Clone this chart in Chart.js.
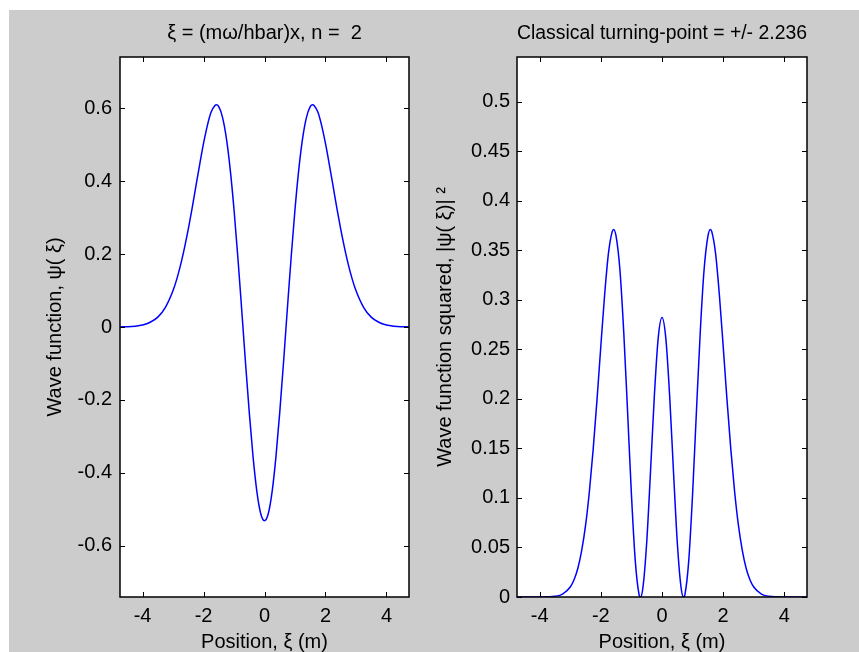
<!DOCTYPE html>
<html>
<head>
<meta charset="utf-8">
<script src="https://cdn.jsdelivr.net/npm/chart.js@4.4.0/dist/chart.umd.min.js"></script>
<style>
  html, body { margin: 0; padding: 0; background: #fff; }
  #fig { position: absolute; left: 9px; top: 10px; width: 850px; height: 642px; background: #cccccc; }
  canvas { position: absolute; top: 0; }
  #psi-chart { left: 0; }
  #prob-chart { left: 430px; }
</style>
</head>
<body>
<div id="fig"></div>
<canvas id="psi-chart" width="430" height="652"></canvas>
<canvas id="prob-chart" width="429" height="652"></canvas>
<script>
// values
const positions = [-4.75, -4.5, -4.25, -4, -3.75, -3.5, -3.25, -3, -2.875, -2.75, -2.625, -2.5, -2.375, -2.25, -2.125, -2,
  -1.875, -1.75, -1.625, -1.58, -1.5, -1.375, -1.25, -1.125, -1, -0.875, -0.75, -0.707, -0.625, -0.5, -0.375, -0.25, -0.125,
  0, 0.125, 0.25, 0.375, 0.5, 0.625, 0.707, 0.75, 0.875, 1, 1.125, 1.25, 1.375, 1.5, 1.58, 1.625, 1.75, 1.875,
  2, 2.125, 2.25, 2.375, 2.5, 2.625, 2.75, 2.875, 3, 3.25, 3.5, 3.75, 4, 4.25, 4.5, 4.75];

const psi = [0.0003, 0.0008, 0.0022, 0.0055, 0.013, 0.027, 0.054, 0.100, 0.132, 0.171, 0.217, 0.268, 0.325, 0.386, 0.446, 0.503,
  0.552, 0.589, 0.607, 0.609, 0.604, 0.574, 0.517, 0.432, 0.322, 0.192, 0.050, 0, -0.096, -0.234, -0.356, -0.451, -0.511,
  -0.531, -0.511, -0.451, -0.356, -0.234, -0.096, 0, 0.050, 0.192, 0.322, 0.432, 0.517, 0.574, 0.604, 0.609, 0.607, 0.589, 0.552,
  0.503, 0.446, 0.386, 0.325, 0.268, 0.217, 0.171, 0.132, 0.100, 0.054, 0.027, 0.013, 0.0055, 0.0022, 0.0008, 0.0003];

const psiSquared = [0, 0, 0, 0, 0.0002, 0.0007, 0.003, 0.0101, 0.0175, 0.029, 0.047, 0.072, 0.106, 0.149, 0.199, 0.253,
  0.305, 0.347, 0.369, 0.371, 0.364, 0.330, 0.267, 0.187, 0.104, 0.037, 0.0025, 0, 0.0091, 0.055, 0.127, 0.203, 0.261,
  0.282, 0.261, 0.203, 0.127, 0.055, 0.0091, 0, 0.0025, 0.037, 0.104, 0.187, 0.267, 0.330, 0.364, 0.371, 0.369, 0.347, 0.305,
  0.253, 0.199, 0.149, 0.106, 0.072, 0.047, 0.029, 0.0175, 0.0101, 0.003, 0.0007, 0.0002, 0, 0, 0, 0];

const xTicks = [-4, -2, 0, 2, 4];
const psiTicks = [-0.6, -0.4, -0.2, 0, 0.2, 0.4, 0.6];
const probTicks = [0, 0.05, 0.1, 0.15, 0.2, 0.25, 0.3, 0.35, 0.4, 0.45, 0.5];

const FONT = 'Liberation Sans, Arial, sans-serif';
Chart.defaults.font.family = FONT;
Chart.defaults.font.size = 20;
Chart.defaults.color = '#000';

// white axes area, black box and inward ticks like matlab
const matlabBox = {
  id: 'matlabBox',
  beforeDraw(chart) {
    const { ctx, chartArea: a } = chart;
    ctx.save();
    ctx.fillStyle = '#fff';
    ctx.fillRect(a.left, a.top, a.right - a.left, a.bottom - a.top);
    ctx.restore();
  },
  afterDatasetsDraw(chart) {
    const { ctx, chartArea: a, scales } = chart;
    ctx.save();
    ctx.strokeStyle = '#000';
    ctx.lineWidth = 1;
    ctx.beginPath();
    scales.x.ticks.forEach(t => {
      const px = Math.round(scales.x.getPixelForValue(t.value)) + 0.5;
      ctx.moveTo(px, a.bottom); ctx.lineTo(px, a.bottom - 5);
      ctx.moveTo(px, a.top); ctx.lineTo(px, a.top + 5);
    });
    scales.y.ticks.forEach(t => {
      const py = Math.round(scales.y.getPixelForValue(t.value)) + 0.5;
      ctx.moveTo(a.left, py); ctx.lineTo(a.left + 5, py);
      ctx.moveTo(a.right, py); ctx.lineTo(a.right - 5, py);
    });
    ctx.stroke();
    ctx.lineWidth = 1.5;
    ctx.strokeRect(a.left, a.top, a.right - a.left, a.bottom - a.top);
    ctx.restore();
  }
};

function makeChart(id, values, opts) {
  const ctx = document.getElementById(id).getContext('2d');
  return new Chart(ctx, {
    type: 'line',
    data: {
      datasets: [{
        data: positions.map((p, i) => ({ x: p, y: values[i] })),
        borderColor: '#0000ff',
        borderWidth: 1.5,
        pointRadius: 0,
        fill: false,
        cubicInterpolationMode: 'monotone'
      }]
    },
    options: {
      responsive: false,
      animation: false,
      layout: { padding: { left: 0, right: opts.padRight, top: 0, bottom: 0 } },
      plugins: {
        legend: { display: false },
        tooltip: { enabled: false },
        title: {
          display: true,
          text: opts.title,
          fullSize: false,
          font: { size: 20, weight: 'normal' },
          padding: { top: 21, bottom: 12 }
        }
      },
      scales: {
        x: {
          type: 'linear',
          min: -4.74,
          max: 4.74,
          afterBuildTicks: s => { s.ticks = xTicks.map(v => ({ value: v })); },
          afterFit: s => { s.height = 55; },
          grid: { display: false, drawTicks: false },
          border: { display: false },
          ticks: { padding: 7, maxRotation: 0, callback: v => String(v) },
          title: { display: true, text: 'Position, ξ (m)', font: { size: 20, lineHeight: 1 }, padding: { top: 0, bottom: 0 } }
        },
        y: {
          min: opts.yMin,
          max: opts.yMax,
          afterBuildTicks: s => { s.ticks = opts.yTicks.map(v => ({ value: v })); },
          afterFit: s => { s.width = opts.yWidth; },
          grid: { display: false, drawTicks: false },
          border: { display: false },
          ticks: { padding: opts.tickPad, callback: v => String(Math.round(v * 1000) / 1000) },
          title: { display: true, text: opts.yTitle, font: { size: 20 }, padding: { top: opts.yTitlePad, bottom: 0 } }
        }
      }
    },
    plugins: [matlabBox]
  });
}

makeChart('psi-chart', psi, {
  title: 'ξ = (mω/hbar)x, n =  2',
  yTitle: 'Wave function, ψ( ξ)',
  yMin: -0.74, yMax: 0.74,
  yTicks: psiTicks,
  yWidth: 120, padRight: 21, tickPad: 8, yTitlePad: 43
});

makeChart('prob-chart', psiSquared, {
  title: 'Classical turning-point = +/- 2.236',
  yTitle: 'Wave function squared, |ψ( ξ)| ²',
  yMin: 0, yMax: 0.545,
  yTicks: probTicks,
  yWidth: 87, padRight: 52, tickPad: 7, yTitlePad: 3
});
</script>
</body>
</html>
